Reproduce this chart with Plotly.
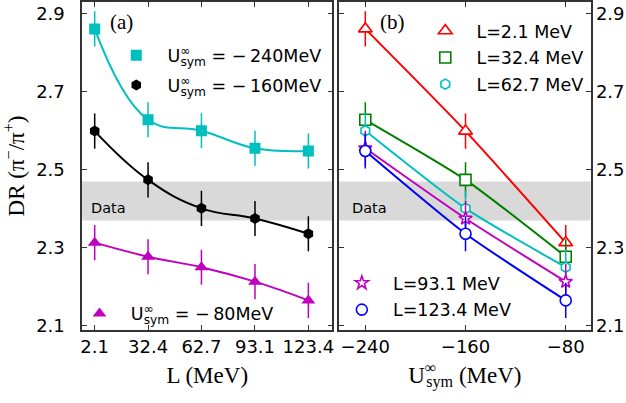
import plotly.graph_objects as go

# ---------------- data ----------------
L_vals = [2.1, 32.4, 62.7, 93.1, 123.4]
L_ticktext = ["2.1", "32.4", "62.7", "93.1", "123.4"]
U_vals = [-240, -160, -80]
U_ticktext = ["\u2212240", "\u2212160", "\u221280"]

# DR(pi-/pi+) for each U_sym (rows) versus L (columns)
dr_u240 = [2.861, 2.628, 2.600, 2.555, 2.548]
dr_u160 = [2.599, 2.474, 2.401, 2.375, 2.336]
dr_u80 = [2.313, 2.277, 2.250, 2.213, 2.165]
err_u240 = [0.045, 0.045, 0.045, 0.045, 0.045]
err_u160 = [0.045, 0.045, 0.045, 0.045, 0.045]
err_u80 = [0.045, 0.045, 0.045, 0.045, 0.045]

data_band = [2.37, 2.47]
y_ticks = [2.1, 2.3, 2.5, 2.7, 2.9]

# ---------------- style ----------------
SANS = "DejaVu Sans"
SERIF = "Liberation Serif"
AX = "#333333"
NB = "\u00a0"

def usym(val):
    return ("U<sup><span style='letter-spacing:-10px'>\u221e</span></sup>"
            "<sub>sym</sub> = \u2212\u2009" + val + "MeV")

fig = go.Figure()

# panel (a): DR vs L for each U_sym
a_series = [
    (dr_u240, err_u240, "#00BFBF", "square", 11, usym("240"), "legend"),
    (dr_u160, err_u160, "#000000", "hexagon", 11, usym("160"), "legend"),
    (dr_u80, err_u80, "#BF00BF", "triangle-up", 12, usym("80"), "legend2"),
]
for i, (ys, es, col, sym, sz, name, leg) in enumerate(a_series):
    fig.add_trace(go.Scatter(
        x=L_vals, y=ys, mode="lines", showlegend=False, hoverinfo="skip",
        line=dict(color=col, width=2, shape="spline", smoothing=1.2),
        xaxis="x", yaxis="y"))
    fig.add_trace(go.Scatter(
        x=L_vals, y=ys, mode="markers", name=NB * 2 + name,
        marker=dict(color=col, symbol=sym, size=sz),
        error_y=dict(type="data", array=es, color=col, thickness=1.5, width=0),
        legend=leg, legendgroup="a%d" % i, xaxis="x", yaxis="y"))

# panel (b): DR vs U_sym for each L
b_series = [
    (0, "#FF0000", "triangle-up", 12, "legend3"),
    (1, "#008000", "square", 11, "legend3"),
    (2, "#00BFBF", "hexagon", 10, "legend3"),
    (3, "#BF00BF", "star", 10, "legend4"),
    (4, "#0000FF", "circle", 11, "legend4"),
]
for j, col, sym, sz, leg in b_series:
    ys = [dr_u240[j], dr_u160[j], dr_u80[j]]
    es = [err_u240[j], err_u160[j], err_u80[j]]
    fig.add_trace(go.Scatter(
        x=U_vals, y=ys, mode="lines", showlegend=False, hoverinfo="skip",
        line=dict(color=col, width=2, shape="spline", smoothing=0.6),
        xaxis="x2", yaxis="y2"))
    fig.add_trace(go.Scatter(
        x=U_vals, y=ys, mode="markers",
        name=NB * 2 + "L=%s MeV" % L_ticktext[j],
        marker=dict(color="white", symbol=sym, size=sz,
                    line=dict(color=col, width=1.6)),
        error_y=dict(type="data", array=es, color=col, thickness=1.5, width=0),
        legend=leg, legendgroup="b%d" % j, xaxis="x2", yaxis="y2"))

# grey experimental band
for xr, yr in (("x", "y"), ("x2", "y2")):
    fig.add_shape(type="rect", xref=xr + " domain", yref=yr,
                  x0=0, x1=1, y0=data_band[0], y1=data_band[1],
                  fillcolor="#d9d9d9", line=dict(width=0), layer="below")

axis_common = dict(showline=True, linecolor=AX, linewidth=1.6, mirror="ticks",
                   ticks="inside", ticklen=5, tickwidth=1.2, tickcolor=AX,
                   showgrid=False, zeroline=False,
                   tickfont=dict(family=SANS, size=18, color="black"))

fig.update_layout(
    width=626, height=403,
    margin=dict(l=0, r=0, t=0, b=0),
    plot_bgcolor="white", paper_bgcolor="white",
    xaxis=dict(domain=[0.1289, 0.5312], range=[-5.0, 137.05],
               tickvals=L_vals, ticktext=L_ticktext,
               title=dict(text="L (MeV)", font=dict(family=SERIF, size=23, color="black"),
                          standoff=10),
               **axis_common),
    yaxis=dict(domain=[0.1687, 0.995], range=[2.089, 2.930], tickvals=y_ticks,
               tickformat=".1f", ticklabelstandoff=12,
               title=dict(text="DR (\u03c0<sup>\u2212</sup>/\u03c0<sup>+</sup>)",
                          font=dict(family=SERIF, size=23, color="black"), standoff=6),
               anchor="x", **axis_common),
    xaxis2=dict(domain=[0.542, 0.9462], range=[-260.9, -60.2],
                tickvals=U_vals, ticktext=U_ticktext, anchor="y2",
                title=dict(text="U<sup><span style='letter-spacing:-10px'>\u221e</span></sup>"
                                "<sub>sym</sub> (MeV)",
                           font=dict(family=SERIF, size=23, color="black"), standoff=10),
                **axis_common),
    yaxis2=dict(domain=[0.1687, 0.995], range=[2.089, 2.930], tickvals=y_ticks,
                tickformat=".1f", side="right", anchor="x2",
                **axis_common),
    legend=dict(x=115 / 626, y=1 - 38 / 403, xanchor="left", yanchor="top",
                bgcolor="rgba(0,0,0,0)", tracegroupgap=4,
                font=dict(family=SANS, size=17.5, color="black")),
    legend2=dict(x=78 / 626, y=1 - 300 / 403, xanchor="left", yanchor="top",
                 bgcolor="rgba(0,0,0,0)",
                 font=dict(family=SANS, size=17.5, color="black")),
    legend3=dict(x=426 / 626, y=1 - 13 / 403, xanchor="left", yanchor="top",
                 bgcolor="rgba(0,0,0,0)", tracegroupgap=1,
                 font=dict(family=SANS, size=17.5, color="black")),
    legend4=dict(x=342 / 626, y=1 - 269 / 403, xanchor="left", yanchor="top",
                 bgcolor="rgba(0,0,0,0)", tracegroupgap=1,
                 font=dict(family=SANS, size=17.5, color="black")),
    annotations=[
        dict(text="(a)", xref="paper", yref="paper", x=107 / 626, y=1 - 22 / 403,
             xanchor="left", yanchor="middle", showarrow=False,
             font=dict(family=SERIF, size=21, color="black")),
        dict(text="(b)", xref="paper", yref="paper", x=378 / 626, y=1 - 22 / 403,
             xanchor="left", yanchor="middle", showarrow=False,
             font=dict(family=SERIF, size=21, color="black")),
        dict(text="Data", xref="x domain", yref="y domain", x=0.029, y=0.372,
             xanchor="left", yanchor="middle", showarrow=False,
             font=dict(family=SANS, size=14.5, color="black")),
        dict(text="Data", xref="x2 domain", yref="y2 domain", x=0.042, y=0.372,
             xanchor="left", yanchor="middle", showarrow=False,
             font=dict(family=SANS, size=14.5, color="black")),
    ],
)

fig.write_html("out.html")
